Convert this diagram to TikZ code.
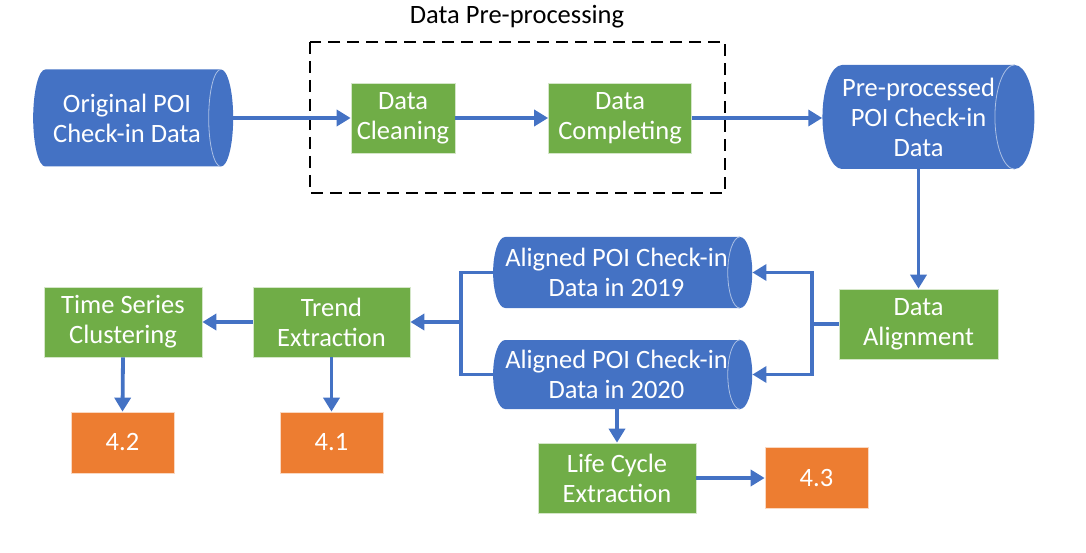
\documentclass[tikz,border=0pt]{standalone}
\usepackage{fontspec}
\setmainfont{Carlito}
\usetikzlibrary{shapes.geometric,arrows.meta,positioning,calc}

\definecolor{flowblue}{RGB}{68,114,196}
\definecolor{boxgreen}{RGB}{112,173,71}
\definecolor{boxorange}{RGB}{237,125,49}

\tikzset{
	stepbox/.style={rectangle, fill=boxgreen, draw=white!70!boxgreen, line width=0.7pt, text=white, align=center, inner sep=0pt, minimum width=158pt, minimum height=70pt, font=\fontsize{26.5}{30}\selectfont},
	secbox/.style={rectangle, fill=boxorange, draw=white!70!boxorange, line width=0.7pt, text=white, align=center, inner sep=0pt, minimum width=103pt, minimum height=61pt, font=\fontsize{26.5}{30}\selectfont},
	store/.style={cylinder, shape aspect=0.5, fill=flowblue, draw=none, text=white, align=center, inner sep=0pt, font=\fontsize{26.5}{30}\selectfont},
	flow/.style={draw=flowblue, line width=3.8pt, -{Triangle[length=14pt,width=16pt]}},
	link/.style={draw=flowblue, line width=3.8pt},
}

\newcommand\cylface[1]{%
	\draw[white!55!flowblue, line width=0.8pt] let \p1=(#1.before top), \p2=(#1.after top), \p3=(#1.top) in
		(\x1,{max(\y1,\y2)}) arc[start angle=90, end angle=270, x radius={\x3-\x1}, y radius={abs(\y1-\y2)/2}];}

\begin{document}
\begin{tikzpicture}[x=1pt, y=-1pt]
	\useasboundingbox (0,0) rectangle (1086,553);

	% pre-processing stage
	\node[font=\fontsize{26.5}{30}\selectfont] (title) at (517,17) {Data Pre-processing};
	\draw[line width=2pt, dash pattern=on 12pt off 7pt] (310,42) rectangle (725,193);

	\node[store, minimum height=200pt, minimum width=97pt] (orig) at (127,118) {Original POI\\Check-in Data};
	\node[stepbox, minimum width=104pt] (clean) at (403,118) {Data\\Cleaning};
	\node[stepbox, minimum width=143pt] (compl) at (620,118) {Data\\Completing};
	\node[store, minimum height=207pt, minimum width=104pt] (prep) at (918.5,117) {Pre-processed\\POI Check-in\\Data};

	% alignment and analysis
	\node[stepbox, minimum width=159pt] (align) at (918.5,324) {Data\\Alignment};
	\node[store, minimum height=259pt, minimum width=71pt] (a19) at (616.5,272.5) {Aligned POI Check-in\\Data in 2019};
	\node[store, minimum height=259pt, minimum width=69pt] (a20) at (616.5,374.5) {Aligned POI Check-in\\Data in 2020};
	\node[stepbox, minimum width=157pt] (trend) at (331.5,322) {Trend\\Extraction};
	\node[stepbox] (tsc) at (123,322) {Time Series\\Clustering};
	\node[stepbox] (life) at (617,478) {Life Cycle\\Extraction};

	\node[secbox] (s42) at (122.5,442.5) {4.2};
	\node[secbox] (s41) at (331.5,442.5) {4.1};
	\node[secbox] (s43) at (816.5,478) {4.3};

	\cylface{orig}
	\cylface{prep}
	\cylface{a19}
	\cylface{a20}

	\draw[flow] (orig.east) -- (orig.east -| clean.west);
	\draw[flow] (clean.east) -- (compl.west);
	\draw[flow] (compl.east) -- (compl.east -| prep.west);
	\draw[flow] (prep.south -| align.north) -- (align.north);

	\coordinate (rj) at ($(align.west)+(-27,0)$);
	\draw[link] (align.west) -- (rj);
	\draw[flow] (rj) |- (a19.east);
	\draw[flow] (rj) |- (a20.east);

	\coordinate (lj) at ($(trend.east)+(51,0)$);
	\draw[link] (a19.west) -| (lj) |- (a20.west);
	\draw[flow] (lj) -- (trend.east);
	\draw[flow] (trend.west) -- (tsc.east);

	\draw[flow] (tsc.south) -- (s42.north);
	\draw[flow] (trend.south) -- (s41.north);
	\draw[flow] (a20.south -| life.north) -- (life.north);
	\draw[flow] (life.east) -- (s43.west);
\end{tikzpicture}
\end{document}
